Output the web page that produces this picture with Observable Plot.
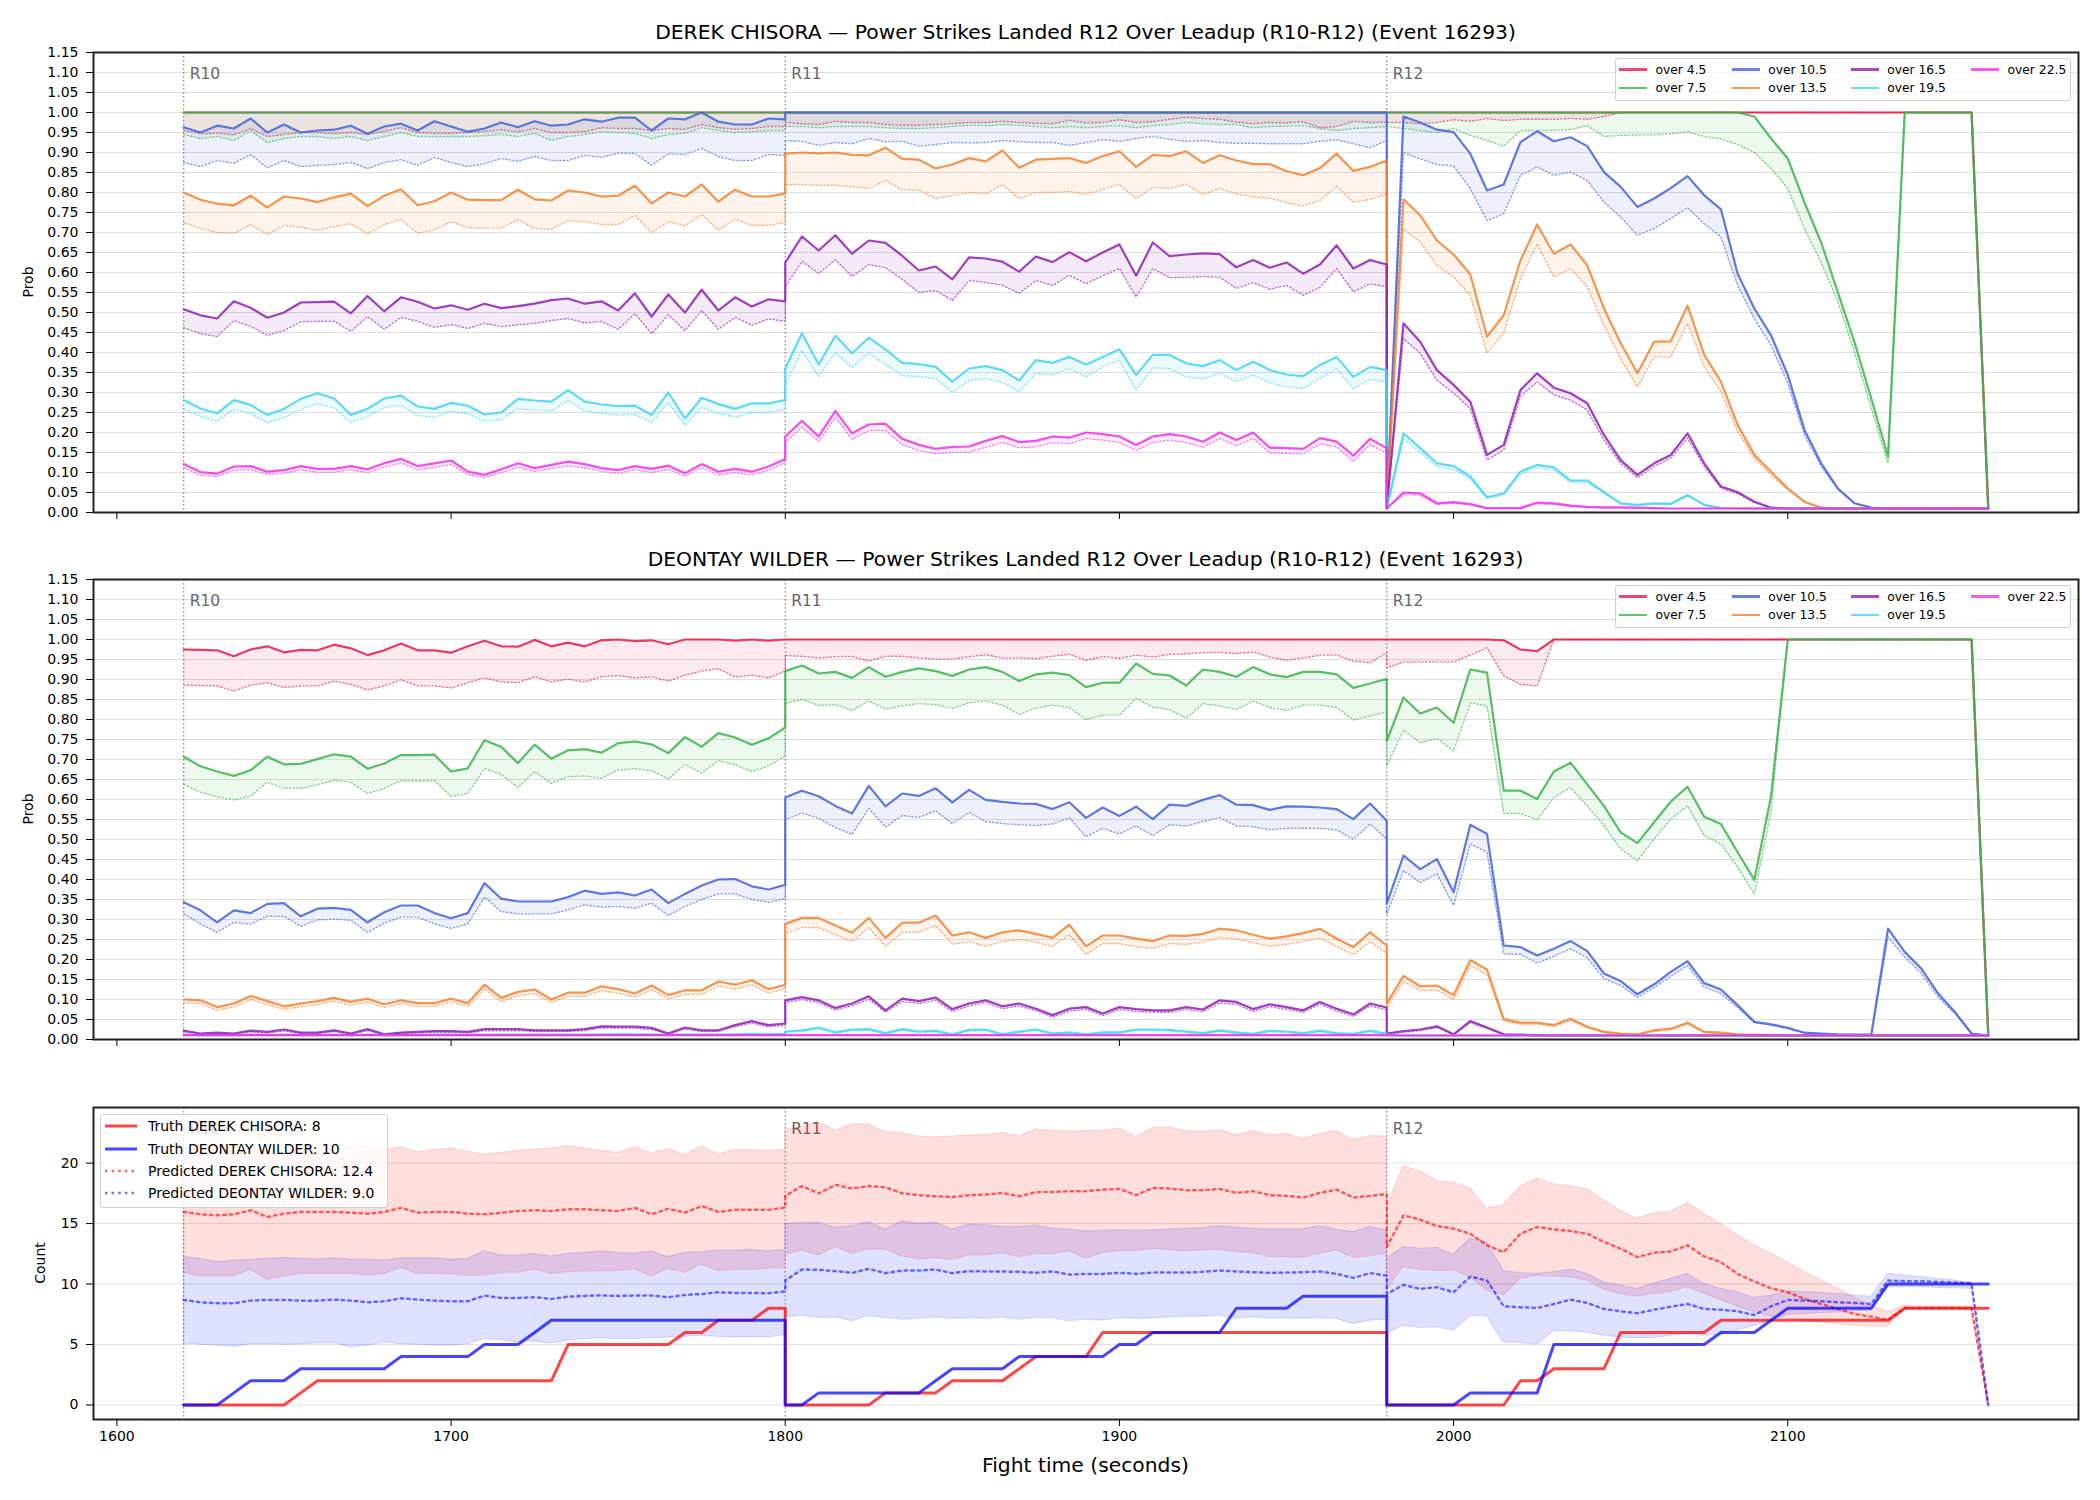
<!DOCTYPE html>
<html>
<head>
<meta charset="utf-8">
<script src="https://cdn.jsdelivr.net/npm/d3@7"></script>
<script src="https://cdn.jsdelivr.net/npm/@observablehq/plot@0.6"></script>
<style>
  body { margin: 0; background: #fff; }
  #fig { position: relative; width: 2100px; height: 1500px; background: #fff; overflow: hidden;
         font-family: "DejaVu Sans", sans-serif; color: #000; }
  #fig > div.panel { position: absolute; left: 0; }
  .title { position: absolute; font-size: 20.3px; white-space: nowrap; transform: translate(-50%, -50%); }
  .ylab { position: absolute; font-size: 14px; white-space: nowrap; transform: translate(-50%, -50%) rotate(-90deg); }
  .legend { position: absolute; background: rgba(255,255,255,0.8); border: 1px solid #cfcfcf;
            border-radius: 3px; box-sizing: border-box; }
  .item { position: absolute; display: flex; align-items: center; white-space: nowrap; height: 18px; }
</style>
</head>
<body>
<div id="fig"></div>
<script>
// ---------------------------------------------------------------
// Snapshot grid: one sample every 5 s across rounds 10-12
// (each round carries both of its end points).
// ---------------------------------------------------------------
const roundStarts = [1620, 1800, 1980];
const roundLabels = ["R10", "R11", "R12"];
const sampleStep = 5;
const samplesPerRound = 37;
const xTicks = [1600, 1700, 1800, 1900, 2000, 2100];
const probTicks = d3.range(0, 24).map(i => +(i * 0.05).toFixed(2));
const countTicks = [0, 5, 10, 15, 20];
const thresholds = ["over 4.5", "over 7.5", "over 10.5", "over 13.5", "over 16.5", "over 19.5", "over 22.5"];
const thresholdColors = ["#e6194b", "#3cb44b", "#4363d8", "#f58231", "#911eb4", "#42d4f4", "#f032e6"];

// ---------------- DEREK CHISORA: P(power strikes landed over X) ----------------
// solid = model probability, dotted = lower estimate
const chisora_o45 = [
  1,1,1,1,1,1,1,1,1,1, 1,1,1,1,1,1,1,1,1,1, 1,1,1,1,1,1,1,1,1,1, 1,1,1,1,1,1,1,
  1,1,1,1,1,1,1,1,1,1, 1,1,1,1,1,1,1,1,1,1, 1,1,1,1,1,1,1,1,1,1, 1,1,1,1,1,1,1,
  1,1,1,1,1,1,1,1,1,1, 1,1,1,1,1,1,1,1,1,1, 1,1,1,1,1,1,1,1,1,1, 1,1,1,1,1,1, .01];
const chisora_o45_lo = [
  .955,.947,.948,.944,.960,.940,.945,.950,.950,.947, .950,.945,.953,.962,.950,.948,.948,.950,.953,.957, .952,.960,.950,.950,.952,.962,.960,.960,.955,.960, .958,.970,.962,.958,.960,.965,.965,
  .975,.972,.970,.978,.975,.975,.970,.968,.968,.970, .972,.975,.975,.978,.975,.973,.972,.980,.974,.975, .982,.975,.977,.983,.988,.985,.983,.976,.972,.975, .974,.977,.962,.965,.978,.975,.976,
  .975,.975,.972,.975,.982,.978,.985,.980,.983,.983, .983,.985,.983,.990, 1,1,1,1,1,1, 1,1,1,1,1,1,1,1,1,1, 1,1,1,1,1,1, .01];
const chisora_o75 = [
  1,1,1,1,1,1,1,1,1,1, 1,1,1,1,1,1,1,1,1,1, 1,1,1,1,1,1,1,1,1,1, 1,1,1,1,1,1,1,
  1,1,1,1,1,1,1,1,1,1, 1,1,1,1,1,1,1,1,1,1, 1,1,1,1,1,1,1,1,1,1, 1,1,1,1,1,1,1,
  1,1,1,1,1,1,1,1,1,1, 1,1,1,1,1,1,1,1,1,1, 1,1, .99,.935,.885,.775,.675,.55,.425,.285,.14, 1,1,1,1,1, .01];
const chisora_o75_lo = [
  .945,.935,.940,.930,.955,.925,.935,.940,.940,.935, .940,.930,.940,.950,.940,.940,.940,.940,.942,.945, .940,.948,.930,.940,.945,.952,.950,.948,.935,.945, .948,.962,.955,.950,.952,.955,.955,
  .965,.965,.962,.965,.965,.965,.962,.960,.960,.962, .965,.968,.967,.970,.968,.965,.962,.965,.962,.965, .967,.962,.967,.970,.975,.972,.970,.970,.962,.965, .966,.967,.960,.955,.960,.962,.965,
  .965,.960,.955,.950,.960,.943,.930,.916,.955,.955, .955,.958,.967,.940,.943,.944,.944,.947,.952,.940, .934,.920,.900,.860,.810,.710,.625,.527,.400,.260, .123, 1,1,1,1,1, .01];
const chisora_o105 = [
  .963,.950,.967,.960,.985,.950,.970,.950,.955,.957, .967,.947,.965,.972,.955,.978,.965,.952,.960,.975, .963,.978,.967,.970,.983,.977,.987,.987,.955,.985, .983,1.00,.977,.970,.970,.985,.983,
  1,1,1,1,1,1,1,1,1,1, 1,1,1,1,1,1,1,1,1,1, 1,1,1,1,1,1,1,1,1,1, 1,1,1,1,1,1,1,
  .010,.990,.975,.957,.951,.897,.805,.820,.926,.953, .928,.938,.916,.851,.814,.764,.785,.811,.841,.793, .758,.597,.510,.443,.344,.206,.123,.060,.023,.0125, .01,.01,.01,.01,.01,.01,.01];
const chisora_o105_lo = [
  .875,.865,.880,.873,.895,.862,.880,.865,.868,.870, .875,.860,.875,.882,.868,.888,.875,.865,.872,.885, .878,.890,.880,.880,.893,.888,.898,.898,.868,.897, .895,.910,.890,.880,.880,.895,.893,
  .930,.928,.918,.925,.922,.935,.927,.928,.916,.920, .925,.924,.925,.930,.927,.925,.925,.918,.925,.932, .928,.935,.940,.933,.928,.930,.925,.923,.923,.922, .922,.922,.928,.932,.922,.912,.930,
  .010,.900,.884,.870,.866,.810,.730,.747,.843,.864, .843,.851,.830,.776,.739,.693,.710,.735,.762,.722, .689,.568,.485,.418,.323,.194,.115,.057,.022,.012, .01,.01,.01,.01,.01,.01,.01];
const chisora_o135 = [
  .800,.782,.772,.768,.792,.763,.790,.785,.776,.788, .797,.766,.792,.808,.768,.778,.800,.782,.781,.781, .807,.783,.780,.805,.800,.790,.792,.817,.773,.800, .790,.820,.777,.807,.790,.790,.798,
  .897,.900,.898,.900,.894,.893,.912,.884,.882,.860, .870,.886,.878,.905,.862,.882,.884,.886,.874,.891, .903,.864,.894,.891,.903,.874,.893,.880,.871,.871, .853,.843,.861,.897,.854,.864,.880,
  .010,.783,.743,.680,.645,.595,.440,.493,.630,.720, .647,.670,.618,.510,.423,.348,.427,.428,.517,.394, .327,.219,.144,.102,.060,.027,.012, .01,.01,.01,.01,.01,.01,.01,.01,.01,.01];
const chisora_o135_lo = [
  .725,.710,.700,.698,.720,.695,.718,.713,.705,.715, .722,.697,.720,.733,.698,.707,.727,.712,.711,.711, .732,.710,.708,.730,.727,.720,.720,.743,.700,.727, .717,.745,.706,.733,.718,.718,.725,
  .820,.820,.818,.818,.815,.810,.830,.807,.806,.785, .792,.800,.797,.820,.785,.800,.800,.803,.795,.808, .820,.785,.813,.810,.821,.795,.810,.797,.789,.786, .775,.766,.780,.816,.775,.783,.797,
  .010,.710,.676,.618,.589,.543,.398,.448,.585,.672, .589,.610,.564,.468,.385,.314,.389,.389,.473,.364, .302,.202,.136,.094,.057,.025,.012, .01,.01,.01,.01,.01,.01,.01,.01,.01,.01];
const chisora_o165 = [
  .508,.493,.485,.528,.512,.487,.500,.525,.526,.527, .498,.541,.503,.538,.527,.510,.518,.507,.522,.511, .516,.522,.531,.535,.522,.528,.505,.548,.490,.545, .500,.557,.505,.538,.515,.533,.528,
  .625,.690,.655,.693,.647,.680,.674,.642,.605,.615, .583,.638,.635,.627,.602,.640,.626,.651,.628,.650, .670,.592,.675,.641,.645,.648,.646,.613,.631,.612, .625,.597,.620,.668,.610,.631,.620,
  .010,.473,.427,.356,.319,.277,.144,.169,.306,.348, .312,.298,.273,.194,.131,.094,.123,.144,.198,.123, .065,.051,.027,.012, .01,.01,.01,.01,.01,.01,.01,.01,.01,.01, .01,.01,.01];
const chisora_o165_lo = [
  .462,.447,.440,.480,.465,.443,.455,.477,.478,.478, .453,.490,.458,.488,.478,.463,.470,.460,.473,.465, .469,.473,.480,.485,.474,.478,.458,.497,.447,.494, .455,.505,.458,.488,.468,.484,.478,
  .565,.628,.598,.632,.590,.620,.612,.583,.550,.555, .530,.580,.575,.568,.548,.580,.568,.593,.572,.592, .610,.539,.610,.587,.588,.590,.588,.560,.575,.558, .568,.543,.563,.610,.552,.572,.564,
  .010,.435,.398,.331,.298,.260,.131,.156,.290,.327, .294,.281,.256,.181,.123,.087,.115,.136,.186,.115, .061,.047,.025,.012, .01,.01,.01,.01,.01,.01,.01,.01,.01,.01, .01,.01,.01];
const chisora_o195 = [
  .281,.260,.248,.281,.269,.244,.259,.284,.298,.285, .244,.259,.285,.292,.265,.259,.274,.267,.245,.250, .284,.280,.277,.306,.277,.270,.266,.267,.244,.300, .235,.287,.271,.259,.273,.273,.281,
  .360,.448,.370,.442,.398,.437,.408,.374,.371,.364, .327,.360,.366,.356,.330,.381,.374,.389,.370,.389, .408,.344,.394,.394,.373,.366,.381,.356,.377,.356, .345,.341,.369,.389,.339,.364,.356,
  .010,.198,.161,.123,.116,.090,.038,.048,.102,.119, .113,.080,.080,.051,.023,.019,.023,.022,.044,.019, .011, .01,.01,.01,.01,.01,.01,.01,.01,.01,.01, .01,.01,.01,.01,.01,.01];
const chisora_o195_lo = [
  .258,.240,.228,.258,.247,.225,.237,.258,.272,.262, .225,.240,.263,.268,.243,.238,.253,.247,.228,.232, .260,.256,.254,.280,.254,.248,.244,.245,.225,.275, .218,.263,.248,.238,.250,.250,.258,
  .320,.405,.340,.400,.362,.398,.370,.342,.340,.335, .300,.330,.335,.325,.302,.348,.344,.360,.339,.364, .381,.306,.362,.360,.339,.334,.348,.327,.344,.324, .314,.310,.335,.360,.309,.333,.327,
  .010,.185,.150,.115,.108,.084,.035,.044,.095,.112, .106,.075,.075,.048,.021,.018,.021,.020,.040,.018, .011, .01,.01,.01,.01,.01,.01,.01,.01,.01,.01, .01,.01,.01,.01,.01,.01];
const chisora_o225 = [
  .121,.101,.097,.115,.116,.102,.106,.116,.109,.109, .116,.108,.123,.134,.116,.123,.130,.102,.094,.108, .123,.111,.119,.127,.121,.111,.106,.116,.109,.117, .098,.121,.102,.109,.102,.115,.134,
  .190,.229,.190,.254,.198,.220,.222,.184,.169,.159, .164,.165,.179,.191,.176,.179,.190,.187,.200,.196, .190,.169,.190,.196,.190,.177,.200,.181,.200,.162, .161,.159,.186,.177,.142,.184,.161,
  .010,.050,.048,.023,.026,.021,.011,.011,.011,.025, .023,.017,.014,.013,.013,.012,.011, .01,.01,.01,.01,.01,.01,.01,.01,.01,.01, .01,.01,.01,.01,.01,.01,.01,.01,.01,.01];
const chisora_o225_lo = [
  .112,.093,.090,.106,.107,.095,.098,.107,.101,.101, .107,.100,.113,.124,.107,.113,.120,.095,.087,.100, .113,.103,.110,.117,.112,.103,.098,.107,.100,.108, .091,.112,.094,.100,.094,.106,.124,
  .175,.213,.178,.238,.183,.205,.205,.170,.155,.147, .150,.151,.163,.175,.162,.164,.175,.172,.185,.181, .175,.155,.175,.181,.175,.163,.185,.167,.185,.149, .148,.146,.172,.164,.128,.170,.148,
  .010,.045,.043,.020,.023,.019,.010,.010,.010,.022, .020,.015,.012,.011,.011,.010,.010, .01,.01,.01,.01,.01,.01,.01,.01,.01,.01, .01,.01,.01,.01,.01,.01,.01,.01,.01,.01];

// ---------------- DEONTAY WILDER: P(power strikes landed over X) ----------------
const wilder_o45 = [
  .975,.974,.973,.958,.975,.983,.968,.974,.973,.987, .978,.961,.973,.990,.973,.973,.967,.983,.997,.983, .982,.999,.983,.992,.983,.998,1.00,.996,.998,.988, 1.00,1.00,1.00,.997,1.00,.997,1.00,
  1,1,1,1,1,1,1,1,1,1, 1,1,1,1,1,1,1,1,1,1, 1,1,1,1,1,1,1,1,1,1, 1,1,1,1,1,1,1,
  1,1,1,1,1,1,1, .998,.975,.971, 1,1,1,1,1,1,1,1,1,1, 1,1,1,1,1,1,1,1,1,1, 1,1,1,1,1,1, .01];
const wilder_o45_lo = [
  .886,.885,.884,.871,.886,.892,.880,.884,.884,.896, .888,.874,.884,.899,.884,.884,.879,.892,.904,.894, .892,.907,.894,.901,.894,.907,.910,.904,.907,.896, .911,.921,.927,.906,.911,.904,.921,
  .960,.958,.954,.957,.958,.946,.958,.958,.954,.951, .951,.957,.962,.954,.954,.952,.958,.963,.948,.957, .953,.961,.956,.963,.964,.967,.968,.965,.969,.956, .948,.954,.961,.961,.946,.942,.967,
  .929,.944,.944,.944,.944,.961,.979,.909,.888,.884, 1,1,1,1,1,1,1,1,1,1, 1,1,1,1,1,1,1,1,1,1, 1,1,1,1,1,1, .01];
const wilder_o75 = [
  .707,.683,.670,.659,.673,.707,.688,.689,.701,.713, .707,.677,.690,.711,.711,.712,.670,.678,.748,.732, .691,.737,.702,.723,.726,.717,.741,.745,.738,.716, .756,.732,.766,.755,.737,.753,.780,
  .921,.935,.915,.919,.904,.931,.907,.919,.928,.921, .909,.925,.931,.919,.896,.913,.917,.911,.881,.892, .892,.940,.914,.910,.885,.925,.919,.907,.931,.913, .906,.919,.919,.913,.879,.890,.902,
  .746,.855,.815,.830,.792,.925,.917,.622,.622,.601, .670,.692,.638,.584,.518,.491,.543,.595,.632,.557, .539,.468,.399,.609, 1,1,1,1,1,1,1,1,1,1,1,1, .01];
const wilder_o75_lo = [
  .638,.618,.607,.599,.609,.643,.628,.628,.637,.648, .643,.615,.628,.647,.647,.647,.608,.615,.677,.663, .630,.670,.640,.657,.659,.653,.674,.677,.672,.651, .687,.666,.697,.687,.670,.684,.709,
  .840,.850,.835,.837,.823,.846,.826,.834,.840,.837, .828,.842,.846,.836,.813,.828,.836,.830,.800,.811, .811,.853,.831,.825,.803,.840,.834,.825,.846,.830, .823,.836,.836,.830,.799,.809,.819,
  .684,.773,.742,.753,.722,.842,.834,.565,.565,.549, .605,.630,.584,.535,.476,.447,.501,.551,.584,.510, .489,.431,.364,.572, 1,1,1,1,1,1,1,1,1,1,1,1, .01];
const wilder_o105 = [
  .343,.323,.293,.323,.316,.339,.341,.308,.327,.329, .324,.293,.318,.335,.335,.316,.303,.316,.391,.352, .345,.345,.345,.356,.372,.364,.368,.360,.375,.341, .364,.385,.400,.401,.383,.375,.387,
  .605,.622,.608,.584,.565,.634,.583,.615,.609,.628, .593,.624,.599,.594,.590,.589,.576,.593,.554,.580, .559,.582,.551,.587,.584,.599,.611,.587,.586,.574, .583,.582,.580,.576,.551,.590,.547,
  .339,.460,.426,.451,.368,.537,.514,.235,.231,.210, .227,.246,.221,.165,.146,.113,.138,.169,.196,.141, .125,.086,.044,.038,.029,.017,.015,.013,.012,.012, .277,.219,.177,.115,.069,.015,.010];
const wilder_o105_lo = [
  .314,.289,.268,.293,.288,.308,.308,.283,.299,.301, .298,.268,.291,.306,.306,.289,.278,.289,.356,.320, .314,.314,.314,.324,.337,.331,.333,.328,.341,.310, .333,.350,.364,.364,.350,.343,.352,
  .550,.566,.553,.530,.513,.578,.531,.560,.555,.572, .540,.568,.545,.540,.537,.535,.539,.554,.507,.528, .514,.534,.510,.537,.534,.545,.555,.534,.532,.524, .528,.528,.528,.524,.501,.539,.501,
  .314,.422,.393,.414,.335,.489,.468,.214,.213,.191, .208,.227,.204,.152,.135,.105,.130,.158,.185,.131, .115,.080,.042,.036,.027,.016,.014,.012,.011,.011, .256,.206,.165,.106,.065,.014,.010];
const wilder_o135 = [
  .100,.098,.081,.090,.109,.096,.083,.090,.096,.104, .094,.102,.088,.098,.091,.091,.102,.091,.137,.104, .119,.125,.100,.117,.117,.133,.126,.115,.135,.111, .123,.123,.145,.137,.148,.126,.137,
  .289,.304,.304,.285,.267,.304,.254,.292,.292,.310, .260,.268,.254,.268,.273,.264,.254,.287,.233,.260, .260,.252,.246,.260,.259,.264,.277,.273,.262,.252, .258,.266,.277,.252,.231,.268,.235,
  .090,.159,.133,.135,.111,.198,.175,.051,.042,.042, .036,.052,.032,.019,.015,.013,.023,.027,.042,.019, .017,.013,.012,.011, .01,.01,.01,.01,.01,.01,.01,.01,.01,.01, .01,.01,.01];
const wilder_o135_lo = [
  .092,.090,.073,.082,.100,.087,.076,.082,.088,.096, .086,.094,.080,.090,.083,.083,.094,.083,.127,.095, .110,.115,.092,.108,.108,.122,.116,.106,.125,.102, .113,.113,.134,.126,.137,.116,.127,
  .265,.280,.280,.262,.245,.280,.233,.268,.268,.285, .238,.245,.233,.245,.250,.243,.233,.262,.213,.240, .240,.232,.228,.240,.238,.243,.255,.252,.242,.233, .238,.245,.254,.232,.212,.245,.215,
  .080,.145,.122,.124,.100,.185,.162,.046,.038,.038, .033,.047,.029,.017,.013,.012,.020,.024,.038,.017, .015,.012,.011,.010, .01,.01,.01,.01,.01,.01,.01,.01,.01,.01, .01,.01,.01];
const wilder_o165 = [
  .022,.015,.017,.015,.022,.019,.025,.017,.017,.023, .015,.026,.013,.017,.019,.021,.021,.019,.026,.026, .026,.023,.023,.023,.026,.033,.032,.032,.029,.015, .030,.023,.023,.036,.046,.036,.040,
  .098,.106,.098,.079,.090,.108,.073,.102,.096,.105, .076,.090,.098,.083,.090,.077,.061,.077,.081,.065, .081,.076,.073,.073,.081,.075,.098,.094,.076,.088, .081,.073,.094,.077,.063,.090,.080,
  .015,.021,.025,.033,.013,.046,.030,.013,.012,.011, .01,.01,.01,.01,.01,.01,.01,.01,.01,.01, .01,.01,.01,.01,.01,.01,.01,.01,.01,.01, .01,.01,.01,.01,.01,.01,.01];
const wilder_o165_lo = [
  .019,.013,.014,.013,.019,.016,.021,.015,.015,.020, .013,.022,.011,.015,.016,.018,.018,.016,.022,.022, .022,.020,.020,.020,.022,.029,.028,.028,.025,.013, .026,.020,.020,.032,.041,.032,.035,
  .092,.100,.092,.074,.084,.101,.068,.095,.090,.098, .070,.084,.092,.077,.084,.072,.056,.071,.075,.060, .075,.070,.068,.068,.075,.070,.091,.088,.070,.082, .075,.068,.088,.071,.058,.084,.074,
  .013,.018,.022,.030,.012,.042,.027,.012,.011,.010, .01,.01,.01,.01,.01,.01,.01,.01,.01,.01, .01,.01,.01,.01,.01,.01,.01,.01,.01,.01, .01,.01,.01,.01,.01,.01,.01];
const wilder_o195 = [
  .012,.011,.011,.011,.012,.011,.012,.011,.011,.012, .011,.012,.011,.011,.011,.012,.012,.011,.012,.012, .012,.012,.012,.012,.012,.013,.013,.013,.013,.011, .013,.012,.012,.013,.014,.013,.014,
  .020,.023,.030,.018,.025,.026,.016,.026,.020,.022, .013,.024,.025,.013,.020,.025,.015,.018,.013,.018, .018,.025,.025,.024,.020,.016,.023,.018,.014,.022, .020,.016,.022,.016,.014,.022,.014,
  .012,.01,.01,.01,.01,.01,.01,.01,.01,.01, .01,.01,.01,.01,.01,.01,.01,.01,.01,.01, .01,.01,.01,.01,.01,.01,.01,.01,.01,.01, .01,.01,.01,.01,.01,.01,.01];
const wilder_o195_lo = [
  .011,.010,.010,.010,.011,.010,.011,.010,.010,.011, .010,.011,.010,.010,.010,.011,.011,.010,.011,.011, .011,.011,.011,.011,.011,.012,.012,.012,.012,.010, .012,.011,.011,.012,.013,.012,.013,
  .017,.020,.026,.015,.022,.023,.014,.023,.017,.019, .011,.021,.022,.011,.017,.022,.013,.015,.011,.015, .015,.022,.022,.021,.017,.014,.020,.015,.012,.019, .017,.014,.019,.014,.012,.019,.012,
  .011,.01,.01,.01,.01,.01,.01,.01,.01,.01, .01,.01,.01,.01,.01,.01,.01,.01,.01,.01, .01,.01,.01,.01,.01,.01,.01,.01,.01,.01, .01,.01,.01,.01,.01,.01,.01];
const wilder_o225 = [
  .011,.011,.011,.011,.011,.011,.011,.011,.011,.011, .011,.011,.011,.011,.011,.011,.011,.011,.011,.011, .011,.011,.011,.011,.011,.011,.011,.011,.011,.011, .011,.011,.011,.011,.011,.011,.011,
  .011,.011,.011,.011,.011,.011,.011,.011,.011,.011, .011,.011,.011,.011,.011,.011,.011,.011,.011,.011, .011,.011,.011,.011,.011,.011,.011,.011,.011,.011, .011,.011,.011,.011,.011,.011,.011,
  .01,.01,.01,.01,.01,.01,.01,.01,.01,.01, .01,.01,.01,.01,.01,.01,.01,.01,.01,.01, .01,.01,.01,.01,.01,.01,.01,.01,.01,.01, .01,.01,.01,.01,.01,.01,.01];
const wilder_o225_lo = [
  .01,.01,.01,.01,.01,.01,.01,.01,.01,.01, .01,.01,.01,.01,.01,.01,.01,.01,.01,.01, .01,.01,.01,.01,.01,.01,.01,.01,.01,.01, .01,.01,.01,.01,.01,.01,.01,
  .01,.01,.01,.01,.01,.01,.01,.01,.01,.01, .01,.01,.01,.01,.01,.01,.01,.01,.01,.01, .01,.01,.01,.01,.01,.01,.01,.01,.01,.01, .01,.01,.01,.01,.01,.01,.01,
  .01,.01,.01,.01,.01,.01,.01,.01,.01,.01, .01,.01,.01,.01,.01,.01,.01,.01,.01,.01, .01,.01,.01,.01,.01,.01,.01,.01,.01,.01, .01,.01,.01,.01,.01,.01,.01];

// ---------------- Power strike counts (cumulative within each round) ----------------
const truthChisora = [
  0,0,0,0,0,0,0,1,2,2, 2,2,2,2,2,2,2,2,2,2, 2,2,2,5,5,5,5,5,5,5, 6,6,7,7,7,8,8,
  0,0,0,0,0,0,1,1,1,1, 2,2,2,2,3,4,4,4,4,6, 6,6,6,6,6,6,6,6,6,6, 6,6,6,6,6,6,6,
  0,0,0,0,0,0,0,0,2,2, 3,3,3,3,6,6,6,6,6,6, 7,7,7,7,7,7,7,7,7,7, 7,8,8,8,8,8,8];
const truthWilder = [
  0,0,0,1,2,2,2,3,3,3, 3,3,3,4,4,4,4,4,5,5, 5,6,7,7,7,7,7,7,7,7, 7,7,7,7,7,7,7,
  0,0,1,1,1,1,1,1,1,2, 3,3,3,3,4,4,4,4,4,4, 5,5,6,6,6,6,6,8,8,8, 8,9,9,9,9,9,9,
  0,0,0,0,0,1,1,1,1,1, 5,5,5,5,5,5,5,5,5,5, 6,6,6,7,8,8,8,8,8,8, 10,10,10,10,10,10,10];
const predChisora = [
  15.96,15.77,15.68,15.77,16.10,15.55,15.82,15.96,15.96,15.96, 15.90,15.82,15.96,16.30,15.90,15.96,15.96,15.82,15.77,15.90, 16.04,16.10,16.04,16.18,16.18,16.10,16.04,16.30,15.77,16.24, 15.90,16.46,15.96,16.15,16.15,16.15,16.32,
  17.30,18.10,17.50,18.20,17.90,18.10,18.00,17.50,17.35,17.26, 17.20,17.35,17.40,17.54,17.26,17.60,17.62,17.68,17.68,17.81, 17.87,17.35,17.95,17.90,17.76,17.76,17.87,17.54,17.68,17.35, 17.29,17.15,17.54,17.81,17.15,17.29,17.43,
  13.06,15.68,15.32,14.80,14.58,14.16,13.20,12.64,14.16,14.72, 14.52,14.38,14.16,13.47,12.92,12.23,12.59,12.70,13.20,12.28, 11.81,10.84,10.21,9.65,9.32,8.77,8.35,7.94,7.52,7.30, 7.03,8.02,8.02,8.02,8.02,8.00,0];
const predWilder = [
  8.69,8.49,8.41,8.41,8.63,8.69,8.69,8.63,8.63,8.71, 8.63,8.49,8.58,8.82,8.71,8.63,8.58,8.58,9.05,8.85, 8.85,8.91,8.77,8.96,9.02,9.07,9.02,9.05,9.05,8.91, 9.10,9.18,9.32,9.27,9.27,9.24,9.40,
  10.30,11.20,11.18,11.07,10.93,11.26,10.90,11.12,11.12,11.20, 10.90,11.07,11.04,11.04,11.01,10.93,11.04,10.79,10.84,10.84, 10.93,10.84,10.95,10.95,10.95,11.01,11.12,11.04,10.98,10.93, 10.95,10.98,11.04,10.84,10.51,10.90,10.70,
  9.18,9.93,9.60,9.74,9.32,10.62,10.29,8.16,8.08,8.02, 8.35,8.71,8.44,7.94,7.75,7.58,7.88,8.13,8.35,7.94, 7.88,7.75,7.44,8.16,8.69,8.63,8.58,8.49,8.44,8.35, 10.29,10.24,10.24,10.18,10.12,10.07,0];
const bandChisoraHi = [
  21.2,21.0,20.8,21.0,21.1,20.9,21.0,21.2,21.1,21.0, 21.3,21.4,21.08,21.30,20.90,21.08,21.20,20.94,20.70,20.85, 21.00,21.13,21.20,21.40,21.20,21.00,20.85,21.30,20.80,21.16, 20.66,21.40,20.70,21.08,21.08,21.00,21.13,
  22.74,23.00,23.40,22.70,23.20,23.20,22.60,22.46,22.20,22.13, 22.20,22.30,22.30,22.52,22.20,22.80,22.68,22.60,22.65,22.68, 22.88,22.13,22.93,22.93,22.65,22.60,22.74,22.30,22.65,22.30, 22.40,22.00,22.40,22.68,21.90,22.24,22.20,
  16.40,19.75,19.30,18.53,18.37,17.90,16.24,16.51,18.04,18.73, 18.26,18.10,17.84,16.93,16.04,15.41,15.88,15.96,16.71,15.82, 14.99,14.03,13.20,12.50,11.81,10.98,10.29,9.60,8.91,8.22, 7.66,8.22,8.13,8.13,8.13,8.13,0];
const bandChisoraLo = [
  10.93,10.62,10.62,10.62,11.18,10.35,10.62,10.84,10.84,10.84, 10.84,10.70,10.84,11.34,10.84,10.84,10.79,10.70,10.70,10.93, 10.93,11.20,10.84,10.98,11.04,11.06,11.06,11.20,10.62,11.26, 10.93,11.62,11.06,11.18,11.18,11.26,11.34,
  12.37,12.78,12.37,13.06,12.50,12.86,12.83,12.28,12.03,12.14, 12.00,12.37,12.37,12.56,12.23,12.50,12.45,12.72,12.09,12.56, 12.72,12.72,12.92,12.78,12.72,12.78,12.83,12.64,12.56,12.23, 12.23,12.17,12.50,12.78,12.17,12.28,12.50,
  9.50,11.40,11.18,11.07,11.12,10.57,9.46,9.05,10.43,10.70, 10.62,10.57,10.29,9.52,9.18,8.96,9.18,9.32,9.74,9.18, 8.69,8.13,7.66,7.30,7.11,6.97,6.83,6.69,6.56,6.47, 6.47,7.93,7.93,7.93,7.93,7.93,0];
const bandWilderHi = [
  12.23,12.09,11.81,11.95,12.00,12.09,12.17,12.09,12.03,12.14, 12.03,12.03,11.95,12.14,12.14,12.14,12.00,12.09,12.72,12.37, 12.37,12.50,12.28,12.50,12.59,12.70,12.59,12.50,12.70,12.23, 12.59,12.64,12.78,12.78,12.83,12.70,12.86,
  15.00,15.05,15.08,14.66,14.80,15.13,14.52,15.19,15.00,15.08, 14.52,14.91,14.86,14.72,14.72,14.86,14.58,14.50,14.36,14.39, 14.44,14.39,14.44,14.52,14.58,14.63,14.80,14.66,14.58,14.52, 14.52,14.52,14.80,14.50,14.30,14.72,14.44,
  12.09,13.06,12.92,13.00,12.42,13.75,13.47,11.07,10.90,10.84, 10.98,11.20,10.84,10.15,9.88,9.60,10.07,10.43,10.84,10.01, 9.60,9.32,8.85,9.05,9.40,9.32,9.27,9.18,9.05,8.96, 10.84,10.70,10.57,10.43,10.29,10.07,0];
const bandWilderLo = [
  5.09,4.98,4.90,4.81,5.03,5.03,4.98,5.03,5.09,5.12, 4.76,4.90,5.17,5.03,4.98,4.90,4.90,5.03,5.45,5.37, 5.17,5.26,5.09,5.31,5.45,5.53,5.45,5.45,5.53,5.59, 5.64,5.73,5.64,5.59,5.59,5.59,5.78,
  7.25,7.39,7.19,7.25,6.92,7.36,7.19,7.05,7.11,7.25, 7.11,7.19,7.11,7.25,7.05,7.19,7.19,6.92,7.05,6.97, 7.19,7.11,7.16,7.25,7.30,7.30,7.39,7.11,7.25,7.16, 7.16,7.11,7.19,7.11,6.69,6.97,7.05,
  5.92,6.56,6.36,6.42,6.14,7.33,7.33,5.17,5.12,4.98, 6.09,6.09,6.00,5.73,5.59,5.50,5.53,5.73,5.86,5.73, 5.81,6.14,6.56,6.97,7.44,7.52,7.60,7.66,7.75,7.80, 9.79,9.74,9.74,9.68,9.65,9.60,0];

// ---------------------------------------------------------------
const time = roundStarts.flatMap(s => d3.range(samplesPerRound).map(i => s + i * sampleStep));

const chisoraSeries = [
  [chisora_o45, chisora_o45_lo], [chisora_o75, chisora_o75_lo], [chisora_o105, chisora_o105_lo],
  [chisora_o135, chisora_o135_lo], [chisora_o165, chisora_o165_lo], [chisora_o195, chisora_o195_lo],
  [chisora_o225, chisora_o225_lo]
].map(([hi, lo], k) => ({name: thresholds[k], color: thresholdColors[k], hi, lo}));
const wilderSeries = [
  [wilder_o45, wilder_o45_lo], [wilder_o75, wilder_o75_lo], [wilder_o105, wilder_o105_lo],
  [wilder_o135, wilder_o135_lo], [wilder_o165, wilder_o165_lo], [wilder_o195, wilder_o195_lo],
  [wilder_o225, wilder_o225_lo]
].map(([hi, lo], k) => ({name: thresholds[k], color: thresholdColors[k], hi, lo}));

const xDomain = [1593, 2187];
const frameLeft = 93, frameRight = 22;
const plotStyle = {fontFamily: "DejaVu Sans, sans-serif", fontSize: "14px", color: "#000", background: "none", overflow: "visible"};

function roundMarks() {
  return [
    Plot.ruleX(roundStarts, {stroke: "#444", strokeOpacity: 0.8, strokeWidth: 1, strokeDasharray: "1.5,2.5"}),
    Plot.text(roundStarts, {x: d => d, text: (d, i) => roundLabels[i], frameAnchor: "top", lineAnchor: "middle",
      dy: 22, dx: 6, textAnchor: "start", fill: "#666", fontSize: 15.5})
  ];
}

function probChart(series) {
  const marks = [Plot.gridY({ticks: probTicks, stroke: "#000", strokeOpacity: 0.12, strokeWidth: 1}), ...roundMarks()];
  for (const s of series) {
    const rows = time.map((t, i) => ({t, hi: s.hi[i], lo: s.lo[i]}));
    marks.push(
      Plot.areaY(rows, {x: "t", y1: "lo", y2: "hi", fill: s.color, fillOpacity: 0.09}),
      Plot.lineY(rows, {x: "t", y: "hi", stroke: s.color, strokeWidth: 2.2, strokeOpacity: 0.85}),
      Plot.lineY(rows, {x: "t", y: "lo", stroke: s.color, strokeWidth: 1.4, strokeOpacity: 0.6, strokeDasharray: "1.4,2.3"})
    );
  }
  marks.push(
    Plot.axisY({ticks: probTicks, tickFormat: d3.format(".2f"), tickSize: 7, tickPadding: 8, fontSize: 14, label: null}),
    Plot.axisX({ticks: xTicks, tickSize: 7, tickFormat: () => "", label: null}),
    Plot.frame({stroke: "#222", strokeWidth: 2})
  );
  return Plot.plot({
    width: 2100, height: 540, marginTop: 52, marginBottom: 28, marginLeft: frameLeft, marginRight: frameRight,
    x: {domain: xDomain}, y: {domain: [0, 1.15]}, style: plotStyle, marks
  });
}

function countChart() {
  const rows = time.map((t, i) => ({
    t, tc: truthChisora[i], tw: truthWilder[i], pc: predChisora[i], pw: predWilder[i],
    ch: bandChisoraHi[i], cl: bandChisoraLo[i], wh: bandWilderHi[i], wl: bandWilderLo[i]
  }));
  return Plot.plot({
    width: 2100, height: 446, marginTop: 53, marginBottom: 81, marginLeft: frameLeft, marginRight: frameRight,
    x: {domain: xDomain}, y: {domain: [-1.2, 24.6]}, style: plotStyle,
    marks: [
      Plot.gridY({ticks: countTicks, stroke: "#000", strokeOpacity: 0.12, strokeWidth: 1}),
      ...roundMarks(),
      Plot.areaY(rows, {x: "t", y1: "cl", y2: "ch", fill: "#ff0000", fillOpacity: 0.13, stroke: "#ff0000", strokeOpacity: 0.12, strokeWidth: 1.2}),
      Plot.areaY(rows, {x: "t", y1: "wl", y2: "wh", fill: "#0000ff", fillOpacity: 0.12, stroke: "#0000ff", strokeOpacity: 0.12, strokeWidth: 1.2}),
      Plot.lineY(rows, {x: "t", y: "pc", stroke: "#ff0000", strokeOpacity: 0.6, strokeWidth: 2.5, strokeDasharray: "2.5,4.1"}),
      Plot.lineY(rows, {x: "t", y: "pw", stroke: "#0000ff", strokeOpacity: 0.55, strokeWidth: 2.5, strokeDasharray: "2.5,4.1"}),
      Plot.lineY(rows, {x: "t", y: "tc", stroke: "#ff0000", strokeOpacity: 0.72, strokeWidth: 3}),
      Plot.lineY(rows, {x: "t", y: "tw", stroke: "#0000ff", strokeOpacity: 0.72, strokeWidth: 3}),
      Plot.axisY({ticks: countTicks, tickSize: 7, tickPadding: 8, fontSize: 14, label: null}),
      Plot.axisX({ticks: xTicks, tickFormat: d => String(d), tickSize: 7, tickPadding: 5, fontSize: 14, label: null}),
      Plot.frame({stroke: "#222", strokeWidth: 2})
    ]
  });
}

// ---------------- layout ----------------
const fig = document.getElementById("fig");
function addPanel(node, top) {
  const d = document.createElement("div");
  d.className = "panel";
  d.style.top = top + "px";
  d.appendChild(node);
  fig.appendChild(d);
}
function addText(cls, text, x, y) {
  const d = document.createElement("div");
  d.className = cls;
  d.textContent = text;
  d.style.left = x + "px";
  d.style.top = y + "px";
  fig.appendChild(d);
}
function probLegend(top, series) {
  const lg = document.createElement("div");
  lg.className = "legend";
  Object.assign(lg.style, {left: "1615px", top: top + "px", width: "456px", height: "43px"});
  const colX = [3, 115.7, 234.7, 355];
  series.forEach((s, i) => {
    const col = Math.floor(i / 2), row = i % 2;
    const it = document.createElement("div");
    it.className = "item";
    Object.assign(it.style, {left: colX[col] + "px", top: (row === 0 ? 1.5 : 20) + "px", fontSize: "12.3px"});
    const sw = document.createElement("span");
    Object.assign(sw.style, {display: "inline-block", width: "28px", height: "2.6px", background: s.color, opacity: 0.8, marginRight: "8.5px"});
    it.appendChild(sw);
    it.appendChild(document.createTextNode(s.name));
    lg.appendChild(it);
  });
  fig.appendChild(lg);
}
function countLegend() {
  const entries = [
    {label: "Truth DEREK CHISORA: 8", color: "#ff0000", dash: null, op: 0.72},
    {label: "Truth DEONTAY WILDER: 10", color: "#0000ff", dash: null, op: 0.72},
    {label: "Predicted DEREK CHISORA: 12.4", color: "#ff0000", dash: "2.5,4.1", op: 0.6},
    {label: "Predicted DEONTAY WILDER: 9.0", color: "#0000ff", dash: "2.5,4.1", op: 0.55}
  ];
  const lg = document.createElement("div");
  lg.className = "legend";
  Object.assign(lg.style, {left: "100px", top: "1114px", width: "288px", height: "94px"});
  const rowCy = [12, 34.7, 57, 79.3];
  entries.forEach((e, i) => {
    const it = document.createElement("div");
    it.className = "item";
    Object.assign(it.style, {left: "4px", top: (rowCy[i] - 10) + "px", fontSize: "14px"});
    const ns = "http://www.w3.org/2000/svg";
    const svg = document.createElementNS(ns, "svg");
    svg.setAttribute("width", "32"); svg.setAttribute("height", "6");
    svg.style.marginRight = "11px";
    const ln = document.createElementNS(ns, "line");
    ln.setAttribute("x1", "0"); ln.setAttribute("x2", "32"); ln.setAttribute("y1", "3"); ln.setAttribute("y2", "3");
    ln.setAttribute("stroke", e.color); ln.setAttribute("stroke-opacity", e.op);
    ln.setAttribute("stroke-width", e.dash ? "2.5" : "3");
    if (e.dash) ln.setAttribute("stroke-dasharray", e.dash);
    svg.appendChild(ln);
    it.appendChild(svg);
    it.appendChild(document.createTextNode(e.label));
    lg.appendChild(it);
  });
  fig.appendChild(lg);
}

addPanel(probChart(chisoraSeries), 0);
addPanel(probChart(wilderSeries), 527);
addPanel(countChart(), 1054);

addText("title", "DEREK CHISORA \u2014 Power Strikes Landed R12 Over Leadup (R10-R12) (Event 16293)", 1085.5, 31.6);
addText("title", "DEONTAY WILDER \u2014 Power Strikes Landed R12 Over Leadup (R10-R12) (Event 16293)", 1085.5, 558.6);
addText("ylab", "Prob", 28, 282);
addText("ylab", "Prob", 28, 809);
addText("ylab", "Count", 40, 1263);
addText("title", "Fight time (seconds)", 1085.5, 1465);

probLegend(58, chisoraSeries);
probLegend(585, wilderSeries);
countLegend();
</script>
</body>
</html>
